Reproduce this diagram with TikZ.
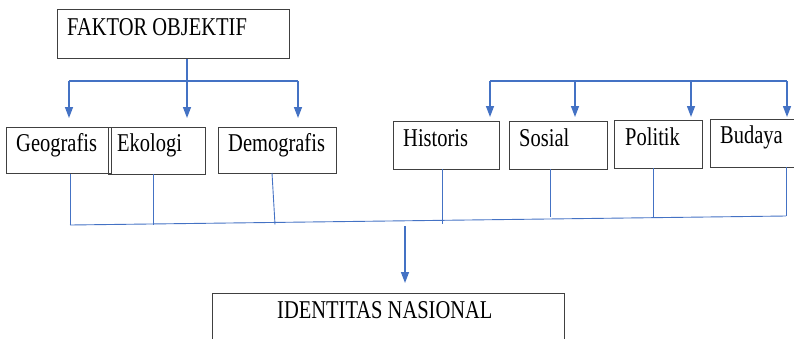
\documentclass[tikz,border=0pt]{standalone}
\usepackage{fontspec}
\setmainfont{Liberation Serif}
\usetikzlibrary{arrows.meta}
\definecolor{conn}{HTML}{4472C4}
\newcommand\mylbl[1]{\scalebox{1}[1.25]{#1}}
\begin{document}
\begin{tikzpicture}[x=1pt,y=-1pt,
  box/.style={draw=black!75,line width=0.9pt,inner sep=0pt,minimum width=#1,anchor=north west},
  txt/.style={anchor=base west,inner sep=0pt,font=\fontsize{20.5}{24}\selectfont},
  arr/.style={draw=conn,line width=1.4pt,-{Triangle[width=8pt,length=11pt]}},
  bus/.style={draw=conn,line width=1.4pt},
  thin/.style={draw=conn,line width=0.9pt}]
\useasboundingbox (0,0) rectangle (794,338);
% boxes
\node[box=232pt,minimum height=49pt] (fo) at (57,9) {};
\node[box=105pt,minimum height=46pt] (geo) at (6,127) {};
\node[box=97pt,minimum height=47pt] (eko) at (108,127) {};
\draw[black!75,line width=0.9pt] ([xshift=3pt]eko.north west) -- ([xshift=3pt]eko.south west);
\node[box=118pt,minimum height=46pt] (dem) at (218,127) {};
\node[box=106pt,minimum height=48pt] (his) at (393,121) {};
\node[box=98pt,minimum height=48pt] (sos) at (509,121) {};
\node[box=88pt,minimum height=48pt] (pol) at (614,120) {};
\node[box=90pt,minimum height=48pt] (bud) at (710,119) {};
\node[box=352pt,minimum height=60pt] (idn) at (212,293) {};
% texts
\node[txt] (fot) at (67,35) {\mylbl{FAKTOR OBJEKTIF}};
\node[txt] (geot) at (16,151) {\mylbl{Geografis}};
\node[txt] (ekot) at (117,151) {\mylbl{Ekologi}};
\node[txt] (demt) at (228,151) {\mylbl{Demografis}};
\node[txt] (hist) at (403,146) {\mylbl{Historis}};
\node[txt] (sost) at (519,146) {\mylbl{Sosial}};
\node[txt] (polt) at (625,145) {\mylbl{Politik}};
\node[txt] (budt) at (720,143) {\mylbl{Budaya}};
\node[txt] (idnt) at (277,318) {\mylbl{IDENTITAS NASIONAL}};
% top-left connectors
\coordinate (tl1) at (69,81);
\coordinate (tl3) at (298,81);
\coordinate (a1) at (69,118);
\coordinate (a2) at (187,118);
\coordinate (a3) at (298,118);
\draw[bus] (tl1) -- (tl3);
\draw[arr] (fo.south -| a2) -- (a2);
\draw[arr] (tl1) -- (a1);
\draw[arr] (tl3) -- (a3);
% top-right connectors
\coordinate (tr1) at (490,81);
\coordinate (tr2) at (575,81);
\coordinate (tr3) at (691,81);
\coordinate (tr4) at (787,81);
\draw[bus] (tr1) -- (tr4);
\draw[arr] (tr1) -- (490,117);
\draw[arr] (tr2) -- (575,117);
\draw[arr] (tr3) -- (691,117);
\draw[arr] (tr4) -- (787,117);
% bottom lines
\coordinate (b1) at (70,225);
\coordinate (b2) at (786,216);
\draw[thin] (b1) -- (b2);
\draw[thin] (geo.south -| b1) -- (b1);
\draw[thin] (153,174) -- (153,224.5);
\draw[thin] (272,173) -- (275,224.5);
\draw[thin] (442,169) -- (442,224);
\draw[thin] (550,169) -- (550,217);
\draw[thin] (653,168) -- (653,218);
\draw[thin] (786,167) -- (b2);
% down arrow
\coordinate (d1) at (405,226);
\coordinate (d2) at (405,283);
\draw[arr] (d1) -- (d2);
\end{tikzpicture}
\end{document}
